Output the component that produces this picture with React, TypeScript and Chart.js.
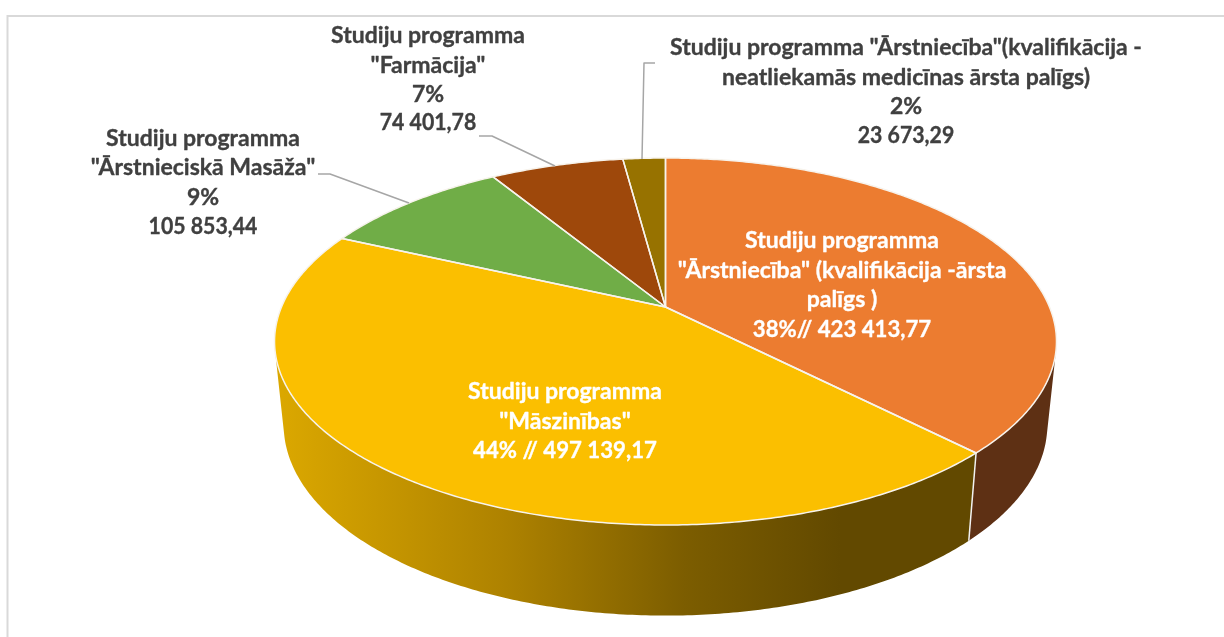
import React, { useEffect, useRef } from "react";
import { Chart, registerables } from "chart.js";

Chart.register(...registerables);

const categories = [
  'Studiju programma "Ārstniecība" (kvalifikācija -ārsta palīgs )',
  'Studiju programma "Māszinības"',
  'Studiju programma "Ārstnieciskā Masāža"',
  'Studiju programma "Farmācija"',
  'Studiju programma "Ārstniecība"(kvalifikācija - neatliekamās medicīnas ārsta palīgs)',
];
const values = [423413.77, 497139.17, 105853.44, 74401.78, 23673.29];
const topColors = ["#EC7C30", "#FBBF00", "#70AD47", "#9E480B", "#977200"];

const labelOrange = ["Studiju programma", '"Ārstniecība" (kvalifikācija -ārsta', "palīgs )", "38%// 423 413,77"];
const labelYellow = ["Studiju programma", '"Māszinības"', "44% // 497 139,17"];
const labelGreen = ["Studiju programma", '"Ārstnieciskā Masāža"', "9%", "105 853,44"];
const labelBrown = ["Studiju programma", '"Farmācija"', "7%", "74 401,78"];
const labelOlive = ['Studiju programma "Ārstniecība"(kvalifikācija -', "neatliekamās medicīnas ārsta palīgs)", "2%", "23 673,29"];

// Projection of the tilted disc (top face and bottom face of the 3D pie)
const CX = 665.5;
const K = -0.188;
const topFace = { a: 384, b: 177, c: 307 };
const bottomFace = { a: 375, b: 184, c: 389 };

function project(face: { a: number; b: number; c: number }, angle: number): [number, number] {
  const x = Math.cos(angle);
  const y = Math.sin(angle);
  const w = 1 + K * y;
  return [CX + (face.a * x) / w, face.c + (face.b * y) / w];
}

function traceArc(ctx: CanvasRenderingContext2D, face: any, a0: number, a1: number) {
  const n = Math.max(2, Math.ceil(Math.abs(a1 - a0) / 0.01));
  for (let i = 0; i <= n; i++) {
    const [x, y] = project(face, a0 + ((a1 - a0) * i) / n);
    ctx.lineTo(x, y);
  }
}

// a wall strip faces the viewer when the quad between two nearby angles winds clockwise on screen
function facesViewer(t: number, e: number) {
  const p = [project(topFace, t), project(topFace, e), project(bottomFace, e), project(bottomFace, t)];
  let area = 0;
  for (let i = 0; i < 4; i++) {
    const [x0, y0] = p[i];
    const [x1, y1] = p[(i + 1) % 4];
    area += x0 * y1 - x1 * y0;
  }
  return area < 0;
}

// Lato's digits run wider than the reference face, so number lines are narrowed a little
function widthFactor(line: string) {
  if (/^[\d ,]+$/.test(line)) return 0.925;
  if (/%.*\d/.test(line)) return 0.965;
  return 1;
}

function drawLabel(
  ctx: CanvasRenderingContext2D,
  lines: string[],
  x: number,
  ys: number[],
  color: string
) {
  ctx.fillStyle = color;
  ctx.strokeStyle = color;
  ctx.lineWidth = 0.35;
  ctx.textAlign = "center";
  ctx.textBaseline = "middle";
  ctx.font = "bold 23px Lato";
  lines.forEach((line, i) => {
    const w = ctx.measureText(line).width * widthFactor(line);
    ctx.fillText(line, x, ys[i], w);
    ctx.strokeText(line, x, ys[i], w);
  });
}

function leader(ctx: CanvasRenderingContext2D, pts: number[][]) {
  ctx.beginPath();
  pts.forEach(([x, y], i) => (i ? ctx.lineTo(x, y) : ctx.moveTo(x, y)));
  ctx.strokeStyle = "#A6A6A6";
  ctx.lineWidth = 1.5;
  ctx.stroke();
}

const pie3d = {
  id: "pie3d",
  beforeDatasetsDraw(chart: any) {
    const ctx: CanvasRenderingContext2D = chart.ctx;
    const arcs = chart.getDatasetMeta(0).data;

    // frame
    ctx.save();
    ctx.strokeStyle = "#D9D9D9";
    ctx.lineWidth = 2;
    ctx.beginPath();
    ctx.moveTo(7.5, 637);
    ctx.lineTo(7.5, 16);
    ctx.lineTo(1224, 16);
    ctx.stroke();

    // side wall colours
    const grad = ctx.createLinearGradient(283, 0, 840, 0);
    grad.addColorStop(0, "#DAA700");
    grad.addColorStop(0.4, "#AE8200");
    grad.addColorStop(0.72, "#7C5D00");
    grad.addColorStop(1, "#624900");
    const sideFill: any[] = ["#5E3014", grad, "#435F2A", "#5E2C07", "#5C4500"];

    // side walls: one solid polygon over the viewer-facing part of each slice
    arcs.forEach((arc: any, i: number) => {
      const step = 0.005;
      let from: number | null = null;
      let to: number | null = null;
      for (let t = arc.startAngle; t < arc.endAngle; t += step) {
        const e = Math.min(t + step, arc.endAngle);
        if (facesViewer(t, e)) {
          if (from === null) from = t;
          to = e;
        }
      }
      if (from === null || to === null) return;
      ctx.beginPath();
      const start = project(topFace, from);
      ctx.moveTo(start[0], start[1]);
      traceArc(ctx, topFace, from, to);
      traceArc(ctx, bottomFace, to, from);
      ctx.closePath();
      ctx.fillStyle = sideFill[i];
      ctx.fill();
    });

    // white seam between front walls
    const seamAngle = arcs[0].endAngle;
    const s0 = project(topFace, seamAngle);
    const s1 = project(bottomFace, seamAngle);
    ctx.strokeStyle = "#F2F2F2";
    ctx.lineWidth = 1.5;
    ctx.beginPath();
    ctx.moveTo(s0[0], s0[1]);
    ctx.lineTo(s1[0], s1[1]);
    ctx.stroke();

    // top faces
    arcs.forEach((arc: any, i: number) => {
      ctx.beginPath();
      ctx.moveTo(CX, topFace.c);
      traceArc(ctx, topFace, arc.startAngle, arc.endAngle);
      ctx.closePath();
      ctx.fillStyle = topColors[i];
      ctx.fill();
    });
    arcs.forEach((arc: any) => {
      ctx.beginPath();
      ctx.moveTo(CX, topFace.c);
      traceArc(ctx, topFace, arc.startAngle, arc.endAngle);
      ctx.closePath();
      ctx.strokeStyle = "#F7F3EC";
      ctx.lineWidth = 1.5;
      ctx.lineJoin = "round";
      ctx.stroke();
    });

    // leader lines
    leader(ctx, [[479, 136], [492, 136], [555, 166]]);
    leader(ctx, [[318, 174], [330, 174], [409, 203]]);
    leader(ctx, [[655, 63], [644, 63], [642, 159]]);

    // labels
    drawLabel(ctx, labelOrange, 842, [241, 271, 300, 330], "#FFFFFF");
    drawLabel(ctx, labelYellow, 565, [392, 422, 451], "#FFFFFF");
    drawLabel(ctx, labelGreen, 203, [139, 168, 198, 227], "#404040");
    drawLabel(ctx, labelBrown, 428, [36, 66, 95, 123], "#404040");
    drawLabel(ctx, labelOlive, 906, [48, 78, 107, 136], "#404040");
    ctx.restore();
    return false;
  },
};

export default function App() {
  const ref = useRef<HTMLCanvasElement | null>(null);
  useEffect(() => {
    if (!ref.current) return;
    const chart = new Chart(ref.current, {
      type: "pie",
      data: {
        labels: categories,
        datasets: [{ data: values, backgroundColor: topColors, borderWidth: 0 }],
      },
      options: {
        responsive: false,
        animation: false,
        plugins: { legend: { display: false }, tooltip: { enabled: false } },
      },
      plugins: [pie3d],
    } as any);
    return () => chart.destroy();
  }, []);
  return (
    <div style={{ position: "absolute", left: 0, top: 0, width: 1224, height: 637, background: "#fff" }}>
      <canvas ref={ref} width={1224} height={637} style={{ display: "block" }} />
    </div>
  );
}
